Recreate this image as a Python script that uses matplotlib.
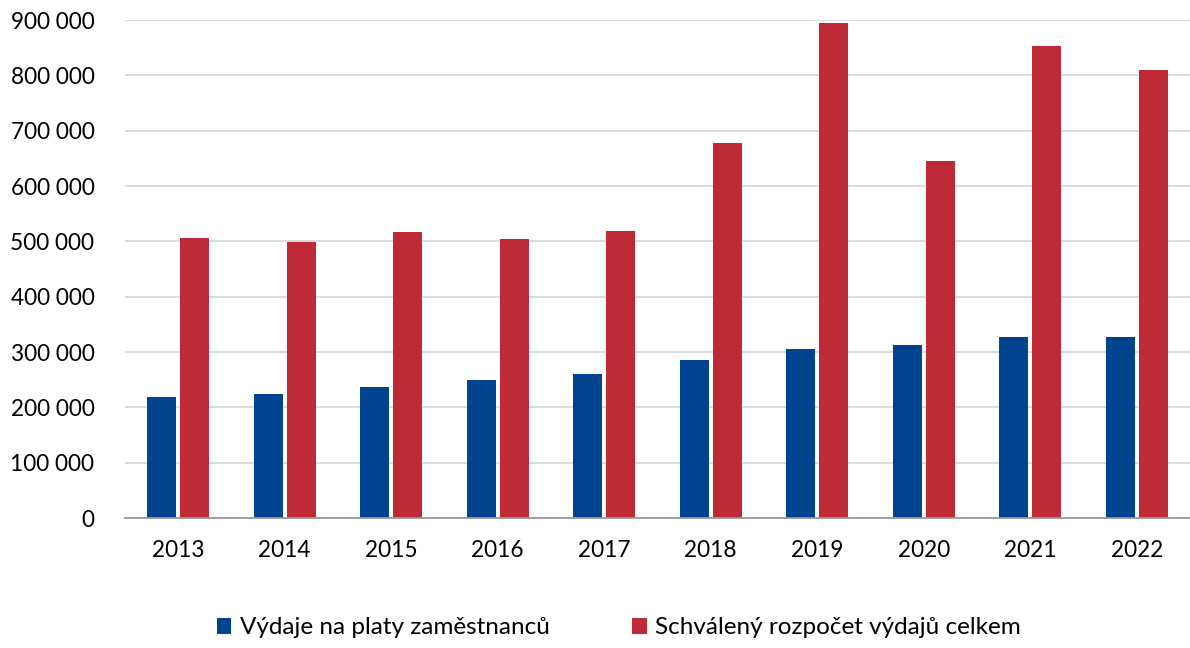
import matplotlib.pyplot as plt
import matplotlib.ticker as mticker
import numpy as np

plt.rcParams['font.family'] = ['Lato', 'DejaVu Sans']

years = ['2013', '2014', '2015', '2016', '2017', '2018', '2019', '2020', '2021', '2022']
platy = [219000, 224000, 237000, 250000, 261000, 286000, 305000, 313000, 327000, 327000]
rozpocet = [506000, 499000, 517000, 504000, 518000, 678000, 894000, 645000, 853000, 809000]
labels = ['Výdaje na platy zaměstnanců', 'Schválený rozpočet výdajů celkem']

blue = '#00448f'
red = '#be2a36'

fig = plt.figure(figsize=(11.9, 6.48), dpi=100)
ax = fig.add_axes([0.105, 0.2006, 0.895, 0.7685])

x = np.arange(len(years))
w = 0.27
off = 0.155
ax.bar(x - off, platy, w, color=blue, label=labels[0], zorder=3)
ax.bar(x + off, rozpocet, w, color=red, label=labels[1], zorder=3)

ax.set_xlim(-0.5, len(years) - 0.5)
ax.set_ylim(0, 900000)
ax.set_yticks(np.arange(0, 900001, 100000))
ax.yaxis.set_major_formatter(mticker.FuncFormatter(lambda v, p: f'{int(v):,}'.replace(',', ' ')))
ax.set_xticks(x)
ax.set_xticklabels(years)
ax.grid(axis='y', color='#d9d9d9', linewidth=1.3, zorder=0)
for s in ['top', 'right', 'left']:
    ax.spines[s].set_visible(False)
ax.spines['bottom'].set_color('#999999')
ax.spines['bottom'].set_linewidth(1.3)
ax.spines['bottom'].set_zorder(4)
ax.tick_params(axis='both', length=0, labelsize=16.3, colors='#000000')
ax.tick_params(axis='x', pad=16)
ax.tick_params(axis='y', pad=22)

fig.legend(loc='center', bbox_to_anchor=(0.52, 0.031), ncol=2, frameon=False,
           fontsize=17.5, handlelength=0.6, handleheight=0.6, handletextpad=0.35,
           columnspacing=3.4)

fig.savefig('out.png', dpi=100)
